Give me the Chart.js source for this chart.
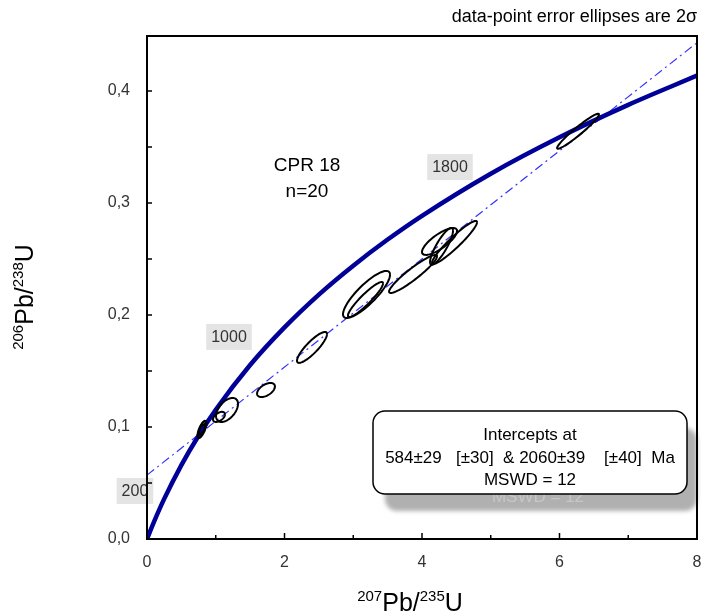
<!DOCTYPE html>
<html>
<head>
<meta charset="utf-8">
<script src="https://cdn.jsdelivr.net/npm/chart.js@4.4.1/dist/chart.umd.min.js"></script>
<style>
  body { margin: 0; background: #fff; }
  canvas { display: block; }
</style>
</head>
<body>
<canvas id="chart1" width="702" height="613"></canvas>
<script>
// concordia curve
const concordiaX = [0, 0.1, 0.25, 0.5, 0.75, 1, 1.5, 2, 2.5, 3, 3.5, 4, 5, 6, 7, 8]
const concordiaY = [0, 0.0151, 0.0358, 0.0660, 0.0922, 0.1154, 0.1553, 0.1889, 0.2182, 0.2440, 0.2673, 0.2885, 0.3261, 0.3586, 0.3875, 0.4136]

// discordia (dash-dot line)
const discordiaX = [0, 8]
const discordiaY = [0.057, 0.443]

// analyses: centre, 2 sigma half widths, correlation
const ellX   = [0.79, 0.80, 0.81, 1.047, 1.164, 1.731, 2.40, 3.178, 3.193, 3.87, 4.255, 4.284, 4.473, 6.27]
const ellY   = [0.0962, 0.0978, 0.0995, 0.109, 0.1152, 0.133, 0.171, 0.2138, 0.2183, 0.2366, 0.2656, 0.2612, 0.2647, 0.364]
const ellErrX = [0.05, 0.065, 0.05, 0.087, 0.16, 0.13, 0.218, 0.255, 0.342, 0.349, 0.255, 0.167, 0.327, 0.305]
const ellErrY = [0.006, 0.0075, 0.006, 0.0045, 0.0107, 0.00625, 0.0138, 0.0156, 0.021, 0.017, 0.012, 0.0165, 0.0192, 0.0156]
const ellRho  = [0.7, 0.7, 0.7, 0.5, 0.5, 0.5, 0.86, 0.92, 0.84, 0.93, 0.78, 0.85, 0.94, 0.96]

// age labels on the concordia
const ageLabels = ['200', '1000', '1800']
const ageLabelX = [-0.175, 1.193, 4.407]
const ageLabelY = [0.0429, 0.1804, 0.332]

const xTicks = [0, 2, 4, 6, 8]
const xTickLabels = ['0', '2', '4', '6', '8']
const xMinor = [1, 3, 5, 7]
const yTicks = [0, 0.1, 0.2, 0.3, 0.4]
const yTickLabels = ['0,0', '0,1', '0,2', '0,3', '0,4']
const yMinor = [0.05, 0.15, 0.25, 0.35]

const FONT = "'Liberation Sans', Arial, sans-serif"

function toPts(xs, ys) {
  return xs.map((x, i) => ({ x: x, y: ys[i] }))
}

function supText(ctx, parts, size, supSize) {
  // parts: [text, isSup]
  let w = 0
  parts.forEach(p => {
    ctx.font = (p[1] ? supSize : size) + 'px ' + FONT
    w += ctx.measureText(p[0]).width
  })
  let x = -w / 2
  parts.forEach(p => {
    ctx.font = (p[1] ? supSize : size) + 'px ' + FONT
    ctx.fillText(p[0], x, p[1] ? -10 : 0)
    x += ctx.measureText(p[0]).width
  })
}

function roundRect(ctx, x, y, w, h, r) {
  ctx.beginPath()
  ctx.moveTo(x + r, y)
  ctx.arcTo(x + w, y, x + w, y + h, r)
  ctx.arcTo(x + w, y + h, x, y + h, r)
  ctx.arcTo(x, y + h, x, y, r)
  ctx.arcTo(x, y, x + w, y, r)
  ctx.closePath()
}

const overlay = {
  id: 'overlay',
  afterDatasetsDraw(chart) {
    const { ctx, chartArea: a, scales: { x, y } } = chart
    ctx.save()
    ctx.beginPath()
    ctx.rect(a.left, a.top, a.right - a.left, a.bottom - a.top)
    ctx.clip()
    ctx.strokeStyle = '#000'
    ctx.lineWidth = 2
    for (let i = 0; i < ellX.length; i++) {
      const s = Math.sqrt(1 - ellRho[i] * ellRho[i])
      ctx.beginPath()
      for (let k = 0; k <= 72; k++) {
        const t = k / 72 * Math.PI * 2
        const px = x.getPixelForValue(ellX[i] + ellErrX[i] * Math.cos(t))
        const py = y.getPixelForValue(ellY[i] + ellErrY[i] * (ellRho[i] * Math.cos(t) + s * Math.sin(t)))
        if (k === 0) ctx.moveTo(px, py)
        else ctx.lineTo(px, py)
      }
      ctx.stroke()
    }
    ctx.restore()
  },
  afterDraw(chart) {
    const { ctx, chartArea: a, scales: { x, y } } = chart
    ctx.save()

    // age labels
    ctx.font = '16px ' + FONT
    ctx.textAlign = 'center'
    ctx.textBaseline = 'middle'
    ageLabels.forEach((t, i) => {
      const px = x.getPixelForValue(ageLabelX[i])
      const py = y.getPixelForValue(ageLabelY[i])
      const w = ctx.measureText(t).width + 10
      ctx.fillStyle = '#e4e4e4'
      ctx.fillRect(px - w / 2, py - 13, w, 26)
      ctx.fillStyle = '#333'
      ctx.fillText(t, px, py + 1)
    })

    // sample name
    ctx.fillStyle = '#000'
    ctx.font = '19px ' + FONT
    ctx.fillText('CPR 18', 307, 166)
    ctx.fillText('n=20', 307, 192)

    // intercepts box with its shadow
    ctx.save()
    ctx.filter = 'blur(2px)'
    ctx.fillStyle = '#b0b0b0'
    roundRect(ctx, 385, 428, 312, 83, 12)
    ctx.fill()
    ctx.restore()
    ctx.fillStyle = '#c6c6c6'
    ctx.font = '17px ' + FONT
    ctx.fillText('MSWD = 12', 538, 497)

    roundRect(ctx, 373, 411, 314, 83, 12)
    ctx.fillStyle = '#fff'
    ctx.fill()
    ctx.lineWidth = 1.5
    ctx.strokeStyle = '#000'
    ctx.stroke()
    ctx.fillStyle = '#000'
    ctx.fillText('Intercepts at', 530, 435)
    ctx.fillText('584\u00b129   [\u00b130]  & 2060\u00b139    [\u00b140]  Ma', 530, 458)
    ctx.fillText('MSWD = 12', 530, 480)

    // frame
    ctx.lineWidth = 2
    ctx.strokeStyle = '#000'
    ctx.strokeRect(a.left, a.top, a.right - a.left, a.bottom - a.top)

    // inside ticks
    ctx.lineWidth = 1.5
    ctx.beginPath()
    xTicks.concat(xMinor).forEach(v => {
      const px = x.getPixelForValue(v)
      ctx.moveTo(px, a.bottom)
      ctx.lineTo(px, a.bottom - (xTicks.includes(v) ? 6 : 4))
    })
    yTicks.concat(yMinor).forEach(v => {
      const py = y.getPixelForValue(v)
      ctx.moveTo(a.left, py)
      ctx.lineTo(a.left + 5, py)
    })
    ctx.stroke()

    // note at top
    ctx.fillStyle = '#000'
    ctx.textAlign = 'right'
    ctx.font = '18px ' + FONT
    ctx.fillText('data-point error ellipses are 2\u03c3', 697, 17)

    // axis titles
    ctx.textAlign = 'left'
    ctx.textBaseline = 'alphabetic'
    ctx.save()
    ctx.translate(410, 611)
    supText(ctx, [['207', true], ['Pb/', false], ['235', true], ['U', false]], 25, 15)
    ctx.restore()
    ctx.save()
    ctx.translate(33, 297)
    ctx.rotate(-Math.PI / 2)
    supText(ctx, [['206', true], ['Pb/', false], ['238', true], ['U', false]], 25, 15)
    ctx.restore()

    ctx.restore()
  }
}

function findLabel(vals, labels, v) {
  const i = vals.findIndex(t => Math.abs(t - v) < 1e-6)
  return i < 0 ? '' : labels[i]
}

new Chart(document.getElementById('chart1').getContext('2d'), {
  type: 'scatter',
  data: {
    datasets: [{
      label: 'concordia',
      data: toPts(concordiaX, concordiaY),
      showLine: true,
      borderColor: '#000099',
      borderWidth: 4.5,
      pointRadius: 0,
      cubicInterpolationMode: 'monotone'
    }, {
      label: 'discordia',
      data: toPts(discordiaX, discordiaY),
      showLine: true,
      borderColor: 'rgb(50,50,255)',
      borderWidth: 1.2,
      borderDash: [9, 4, 2, 4],
      pointRadius: 0
    }]
  },
  options: {
    responsive: false,
    animation: false,
    layout: { padding: { top: 36, right: 5, left: 0, bottom: 0 } },
    plugins: { legend: { display: false }, tooltip: { enabled: false } },
    scales: {
      x: {
        type: 'linear',
        min: 0,
        max: 8,
        afterBuildTicks: s => { s.ticks = xTicks.map(v => ({ value: v })) },
        afterFit: s => { s.height = 74; s.paddingLeft = 0; s.paddingRight = 0 },
        grid: { display: false, drawTicks: false },
        border: { display: false },
        ticks: {
          padding: 14,
          color: '#333',
          font: { family: FONT, size: 16 },
          callback: v => findLabel(xTicks, xTickLabels, v)
        }
      },
      y: {
        type: 'linear',
        min: 0,
        max: 0.449,
        afterBuildTicks: s => { s.ticks = yTicks.map(v => ({ value: v })) },
        afterFit: s => { s.width = 147; s.paddingTop = 0; s.paddingBottom = 0 },
        grid: { display: false, drawTicks: false },
        border: { display: false },
        ticks: {
          padding: 17,
          color: '#333',
          font: { family: FONT, size: 16 },
          callback: v => findLabel(yTicks, yTickLabels, v)
        }
      }
    }
  },
  plugins: [overlay]
})
</script>
</body>
</html>
